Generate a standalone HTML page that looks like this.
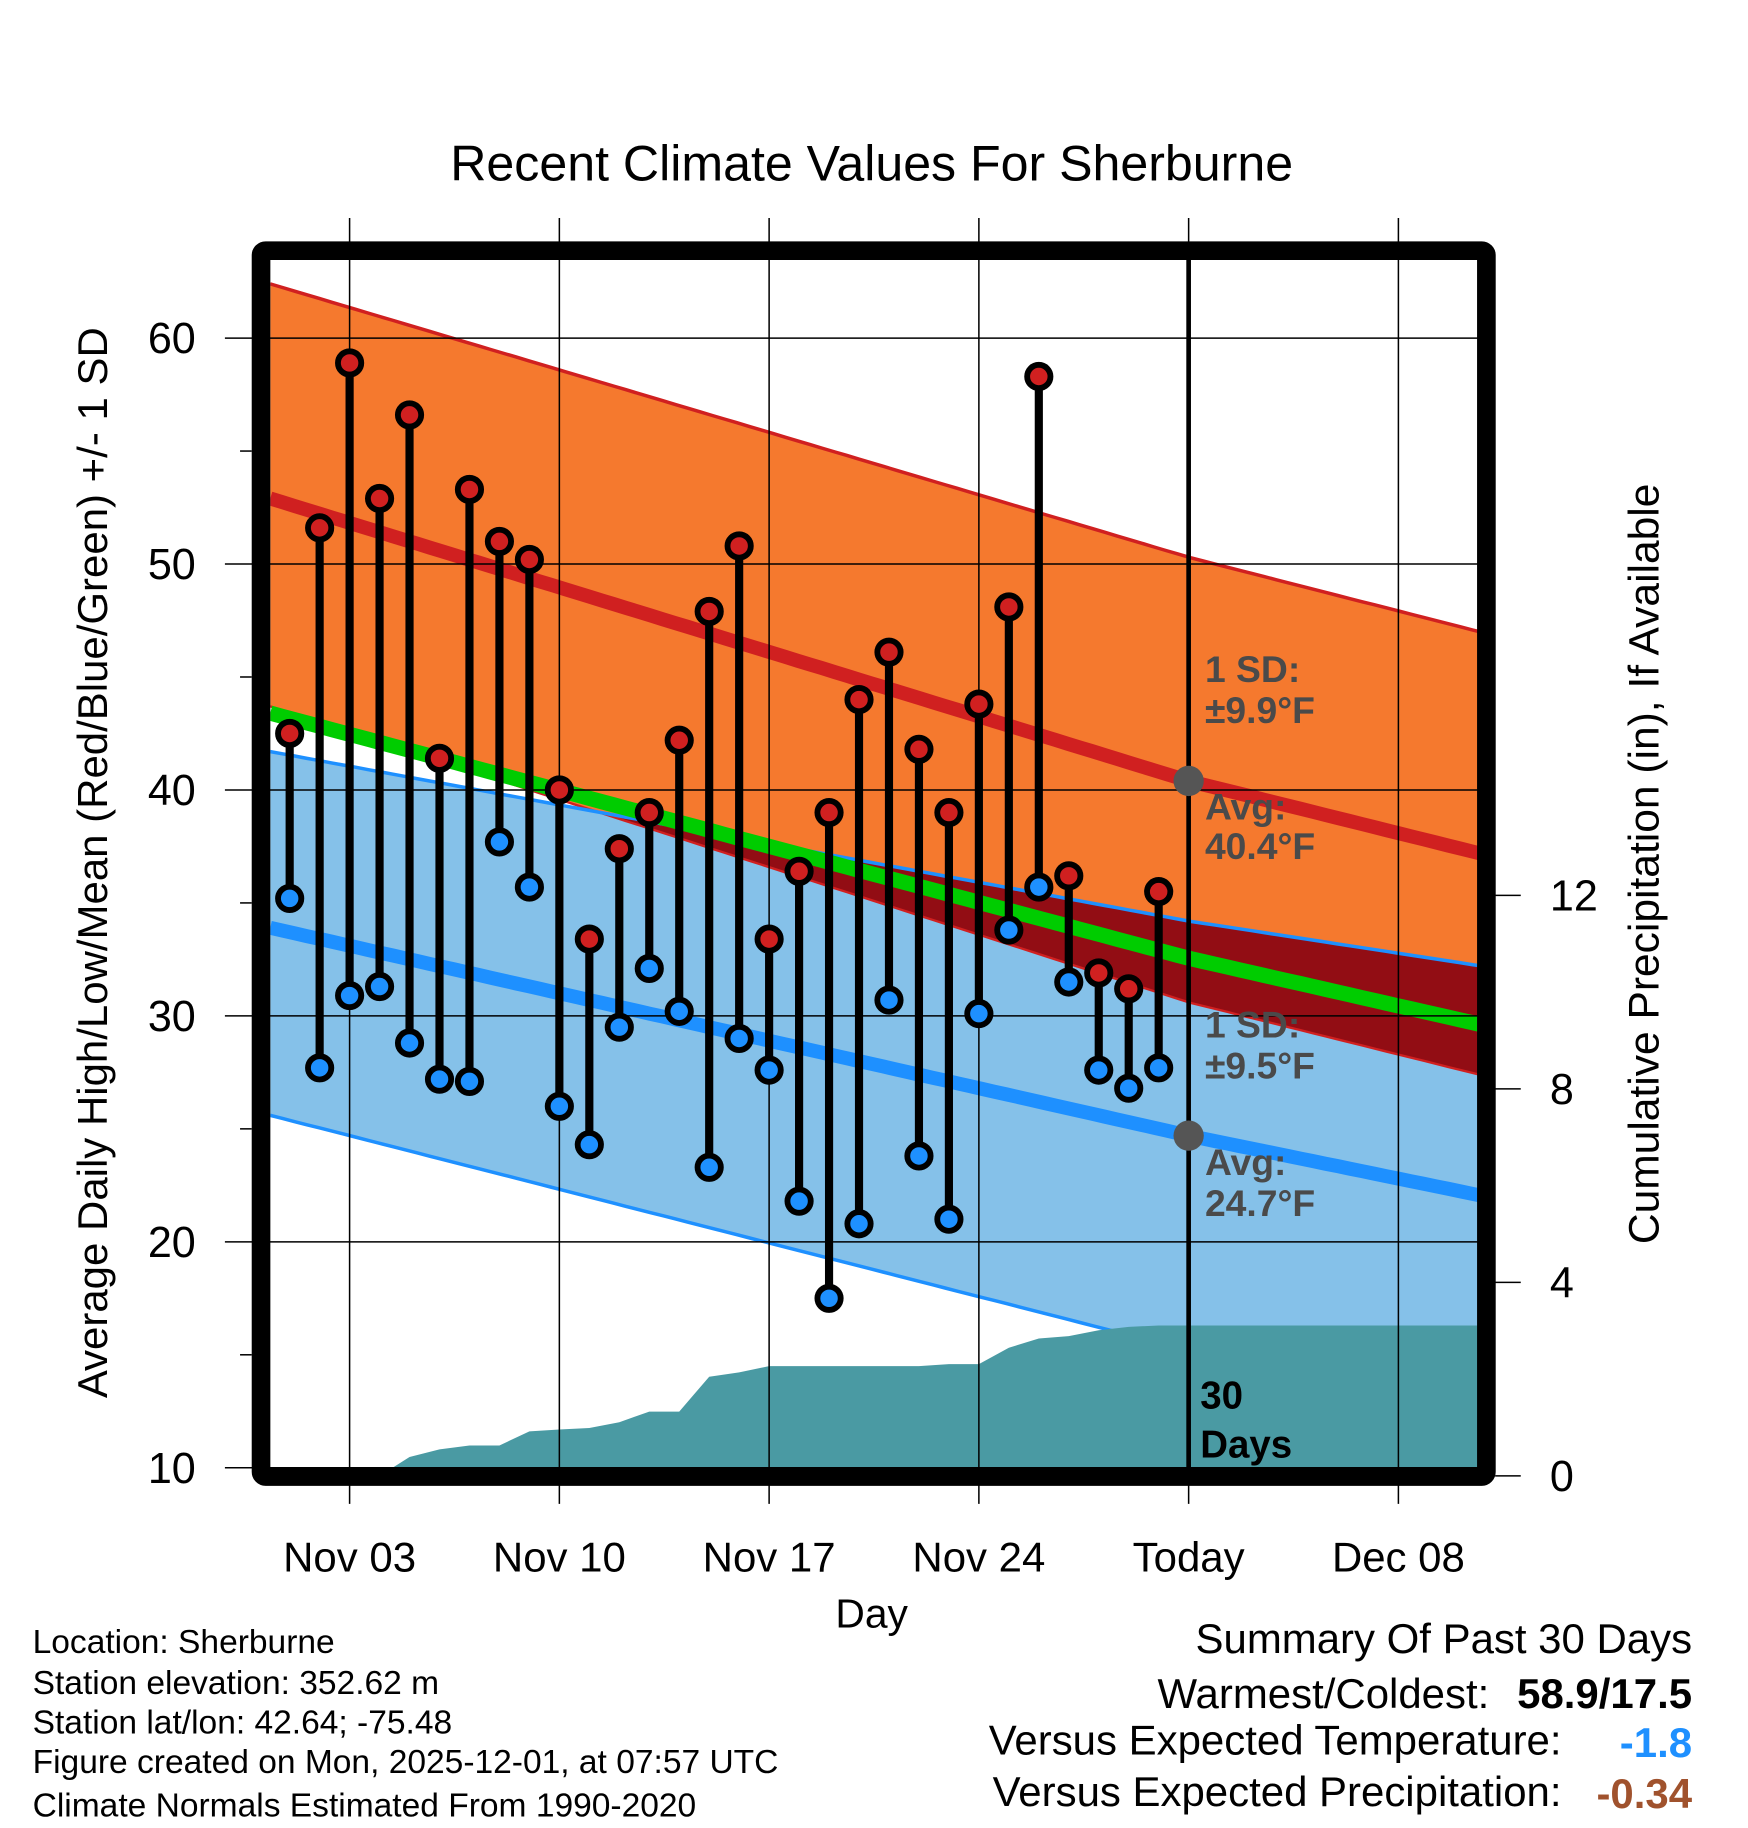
<!DOCTYPE html>
<html><head><meta charset="utf-8"><style>
html,body{margin:0;padding:0;background:#fff;}
svg{display:block;font-family:"Liberation Sans",Arial,sans-serif;}
</style></head><body>
<svg id="chart" width="1748" height="1828" viewBox="0 0 1500 1568" preserveAspectRatio="none" xmlns="http://www.w3.org/2000/svg">
<text x="748" y="155" font-size="43" text-anchor="middle">Recent Climate Values For Sherburne</text>
<g id="plot"></g>
<text transform="translate(92,740) rotate(-90)" font-size="36" text-anchor="middle">Average Daily High/Low/Mean (Red/Blue/Green) +/- 1 SD</text>
<text transform="translate(1423,741) rotate(-90)" font-size="36.5" text-anchor="middle">Cumulative Precipitation (in), If Available</text>
<text x="748" y="1396" font-size="35" text-anchor="middle">Day</text>
<g font-size="28.8">
<text x="28" y="1418">Location: Sherburne</text>
<text x="28" y="1453">Station elevation: 352.62 m</text>
<text x="28" y="1487">Station lat/lon: 42.64; -75.48</text>
<text x="28" y="1521">Figure created on Mon, 2025-12-01, at 07:57 UTC</text>
<text x="28" y="1558">Climate Normals Estimated From 1990-2020</text>
</g>
<g font-size="36" text-anchor="end">
<text x="1452" y="1418">Summary Of Past 30 Days</text>
<text x="1278" y="1465">Warmest/Coldest:</text>
<text x="1452" y="1465" font-weight="bold">58.9/17.5</text>
<text x="1340" y="1505">Versus Expected Temperature:</text>
<text x="1452" y="1507" font-weight="bold" fill="#1e90ff">-1.8</text>
<text x="1340" y="1549">Versus Expected Precipitation:</text>
<text x="1452" y="1551" font-weight="bold" fill="#a0522d">-0.34</text>
</g>
</svg>
<script>
// Data (day index: 1 = Nov 01)
const days = [1,2,3,4,5,6,7,8,9,10,11,12,13,14,15,16,17,18,19,20,21,22,23,24,25,26,27,28,29,30];
const highs = [42.5,51.6,58.9,52.9,56.6,41.4,53.3,51.0,50.2,40.0,33.4,37.4,39.0,42.2,47.9,50.8,33.4,36.4,39.0,44.0,46.1,41.8,39.0,43.8,48.1,58.3,36.2,31.9,31.2,35.5];
const lows = [35.2,27.7,30.9,31.3,28.8,27.2,27.1,37.7,35.7,26.0,24.3,29.5,32.1,30.2,23.3,29.0,27.6,21.8,17.5,20.8,30.7,23.8,21.0,30.1,33.8,35.7,31.5,27.6,26.8,27.7];
const precip = [0,0,0,0,0.39,0.55,0.63,0.63,0.92,0.96,0.99,1.11,1.33,1.33,2.05,2.14,2.27,2.27,2.27,2.27,2.27,2.27,2.31,2.31,2.65,2.84,2.89,3.01,3.08,3.11];
const normDays = [0.35,31,41.3];
const normHigh = [52.9,40.4,37.0];
const normHighUp = [62.4,50.3,46.8];
const normHighLo = [43.7,30.6,27.2];
const normLow = [33.9,24.7,21.9];
const normLowUp = [41.7,34.2,32.1];
const normLowLo = [25.6,15.2,11.0];
const yTicks = [10,20,30,40,50,60];
const y2Ticks = [0,4,8,12];
const xTickDays = [3,10,17,24,31,38];
const xTickLabels = ['Nov 03','Nov 10','Nov 17','Nov 24','Today','Dec 08'];

const L=232,R=1268,T=222,B=1259;
const X=d=>300+(d-3)*(180/7);
const Y=v=>290+(60-v)*19.38;
const YP=v=>1266-v*41.5;
const NS="http://www.w3.org/2000/svg";
const g=document.getElementById('plot');
function mk(tag,attrs,name,inter){const e=document.createElementNS(NS,tag);for(const k in attrs)e.setAttribute(k,attrs[k]);


g.appendChild(e);return e;}
function interp(arr,d){for(let i=0;i<normDays.length-1;i++){if(d<=normDays[i+1]||i==normDays.length-2){const t=(d-normDays[i])/(normDays[i+1]-normDays[i]);return arr[i]+t*(arr[i+1]-arr[i]);}}}
const dL=normDays[0],dR=normDays[2];
const samp=[];for(let i=0;i<=100;i++)samp.push(dL+(dR-dL)*i/100);
const line=(arr)=>samp.map(d=>X(d).toFixed(1)+','+Y(interp(arr,d)).toFixed(1));
function band(up,lo){return line(up).concat(line(lo).reverse()).join(' ');}
const defs=mk('defs',{},'defs',false);
const cp=document.createElementNS(NS,'clipPath');cp.setAttribute('id','pc');
const cr=document.createElementNS(NS,'rect');cr.setAttribute('x',L);cr.setAttribute('y',T);cr.setAttribute('width',R-L);cr.setAttribute('height',B-T);
cp.appendChild(cr);defs.appendChild(cp);
mk('polygon',{points:band(normHighUp,normHighLo),fill:'#f5792e','clip-path':'url(#pc)'},'high-sd-band',false);
mk('polygon',{points:band(normLowUp,normLowLo),fill:'#85c1e9','clip-path':'url(#pc)'},'low-sd-band',false);
const ovTop=samp.map(d=>{const a=interp(normLowUp,d),b=interp(normHighLo,d);return X(d).toFixed(1)+','+Y(Math.max(a,b)).toFixed(1);});
const ovBot=samp.map(d=>X(d).toFixed(1)+','+Y(interp(normHighLo,d)).toFixed(1)).reverse();
mk('polygon',{points:ovTop.concat(ovBot).join(' '),fill:'#920d14','clip-path':'url(#pc)'},'overlap-band',false);
mk('polyline',{points:line(normHighUp).join(' '),fill:'none',stroke:'#d02020','stroke-width':3,'clip-path':'url(#pc)'},'high-upper-sd-line',false);
mk('polyline',{points:line(normHighLo).join(' '),fill:'none',stroke:'#d02020','stroke-width':2,'clip-path':'url(#pc)'},'high-lower-sd-line',false);
mk('polyline',{points:line(normLowUp).join(' '),fill:'none',stroke:'#1e90ff','stroke-width':3,'clip-path':'url(#pc)'},'low-upper-sd-line',false);
mk('polyline',{points:line(normLowLo).join(' '),fill:'none',stroke:'#1e90ff','stroke-width':3,'clip-path':'url(#pc)'},'low-lower-sd-line',false);
mk('polyline',{points:line(normHigh).join(' '),fill:'none',stroke:'#d02020','stroke-width':12,'clip-path':'url(#pc)'},'avg-high-line',false);
mk('polyline',{points:line(normLow).join(' '),fill:'none',stroke:'#1e90ff','stroke-width':12,'clip-path':'url(#pc)'},'avg-low-line',false);
const normMean=normHigh.map((h,i)=>(h+normLow[i])/2);
mk('polyline',{points:line(normMean).join(' '),fill:'none',stroke:'#00cc00','stroke-width':13,'clip-path':'url(#pc)'},'avg-mean-line',false);
const pp=[X(days[0])+','+YP(0)];days.forEach((d,i)=>pp.push(X(d)+','+YP(precip[i])));
pp.push(R+','+YP(precip[precip.length-1]));pp.push(R+','+YP(0));pp.push(X(days[0])+','+YP(0));
mk('polygon',{points:pp.join(' '),fill:'#4a9aa3','clip-path':'url(#pc)'},'precip-area',false);
yTicks.forEach(v=>{mk('line',{x1:193,x2:R,y1:Y(v),y2:Y(v),stroke:'#000','stroke-width':1.3},'y-grid-'+v,false);
 const t=mk('text',{x:168,y:Y(v)+13,'font-size':37,'text-anchor':'end'},'y-tick-label',false);t.textContent=v;});
for(let v=15;v<=60;v+=10){mk('line',{x1:206,x2:216,y1:Y(v),y2:Y(v),stroke:'#000','stroke-width':1.3},'y-minor-tick',false);}
y2Ticks.forEach(v=>{mk('line',{x1:1283,x2:1305,y1:YP(v),y2:YP(v),stroke:'#000','stroke-width':1.3},'y2-tick',false);
 const t=mk('text',{x:1330,y:YP(v)+13,'font-size':37},'y2-tick-label',false);t.textContent=v;});
xTickDays.forEach((d,i)=>{mk('line',{x1:X(d),x2:X(d),y1:187,y2:1290,stroke:'#000','stroke-width':1.3},'x-grid',false);
 const t=mk('text',{x:X(d),y:1348,'font-size':36,'text-anchor':'middle'},'x-tick-label',false);t.textContent=xTickLabels[i];});
mk('line',{x1:X(31),x2:X(31),y1:T,y2:B,stroke:'#000','stroke-width':4},'today-line',false);
days.forEach((d,i)=>{mk('line',{x1:X(d),x2:X(d),y1:Y(highs[i]),y2:Y(lows[i]),stroke:'#000','stroke-width':7},'temp-range-stem',false);});
days.forEach((d,i)=>{mk('circle',{cx:X(d),cy:Y(highs[i]),r:10,fill:'#d02020',stroke:'#000','stroke-width':5},'high-marker',false);
 mk('circle',{cx:X(d),cy:Y(lows[i]),r:10,fill:'#1e90ff',stroke:'#000','stroke-width':5},'low-marker',false);});
mk('circle',{cx:X(31),cy:Y(normHigh[1]),r:13,fill:'#555'},'today-avg-high-dot',false);
mk('circle',{cx:X(31),cy:Y(normLow[1]),r:13,fill:'#555'},'today-avg-low-dot',false);
const ann=[['1 SD:',585],['±9.9°F',620],['Avg:',703],['40.4°F',737],['1 SD:',890],['±9.5°F',925],['Avg:',1008],['24.7°F',1043]];
ann.forEach(a=>{const t=mk('text',{x:1034,y:a[1],'font-size':32,'font-weight':'bold',fill:'#4a4a4a'},'normal-annotation',false);t.textContent=a[0];});
[['30',1208],['Days',1250]].forEach(a=>{const t=mk('text',{x:1030,y:a[1],'font-size':33,'font-weight':'bold',fill:'#000'},'days-label',false);t.textContent=a[0];});
mk('rect',{x:224,y:215,width:1051.5,height:1051.5,fill:'none',stroke:'#000','stroke-width':16,rx:4},'plot-frame',false);
</script>
</body></html>
